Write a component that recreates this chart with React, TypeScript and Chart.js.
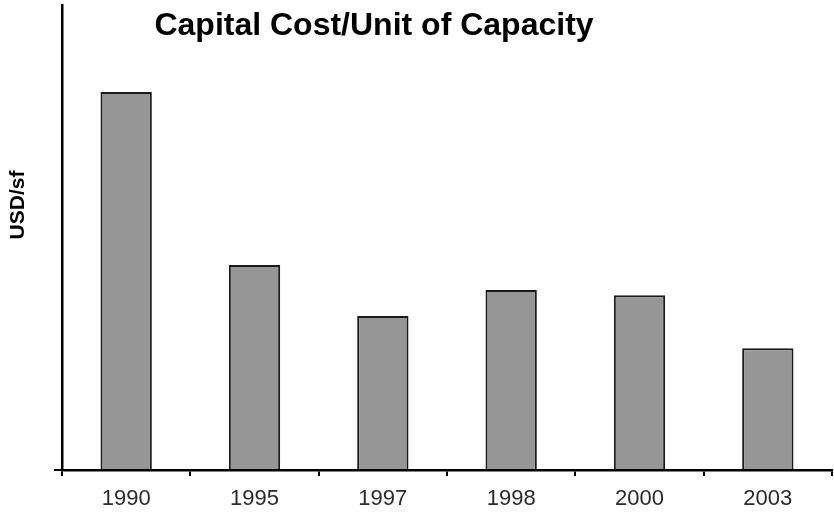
import React, { useEffect, useRef } from "react";
import { Chart, registerables } from "chart.js";

Chart.register(...registerables);

const categories = ["1990", "1995", "1997", "1998", "2000", "2003"];
const costValues = [81.3, 44.1, 33.1, 38.7, 37.6, 26.2];
const chartTitle = "Capital Cost/Unit of Capacity";
const yAxisTitle = "USD/sf";

const textPlugin = {
  id: "textPlugin",
  afterDraw(chart: any) {
    const ctx = chart.ctx;
    ctx.save();
    ctx.fillStyle = "#000";
    ctx.textAlign = "center";
    ctx.textBaseline = "middle";
    ctx.font = "bold 32px 'Liberation Sans', Arial, sans-serif";
    ctx.fillText(chartTitle, 374, 26);
    ctx.translate(18, 205);
    ctx.rotate(-Math.PI / 2);
    ctx.font = "bold 21px 'Liberation Sans', Arial, sans-serif";
    ctx.fillText(yAxisTitle, 0, 0);
    ctx.restore();
  },
};

export default function App() {
  const ref = useRef<HTMLCanvasElement>(null);
  useEffect(() => {
    const chart = new Chart(ref.current as HTMLCanvasElement, {
      type: "bar",
      data: {
        labels: categories,
        datasets: [
          {
            data: costValues,
            backgroundColor: "#969696",
            borderColor: "#1a1a1a",
            borderWidth: 2,
            barPercentage: 0.4,
            categoryPercentage: 1,
          },
        ],
      },
      options: {
        responsive: false,
        animation: false,
        layout: { padding: { top: 5, right: 2, left: 0, bottom: 0 } },
        plugins: { legend: { display: false }, tooltip: { enabled: false }, title: { display: false } },
        scales: {
          x: {
            grid: {
              display: true,
              drawOnChartArea: false,
              drawTicks: true,
              tickLength: 6,
              offset: true,
              color: "#000",
              lineWidth: 2,
            },
            border: { display: true, color: "#000", width: 2.5 },
            ticks: {
              color: "#2a2a2a",
              padding: 10,
              font: { family: "'Liberation Sans', Arial, sans-serif", size: 22 },
            },
            afterFit(scale: any) {
              scale.height = 46;
            },
          },
          y: {
            min: 0,
            max: 100,
            grid: {
              display: true,
              drawOnChartArea: false,
              drawTicks: true,
              tickLength: 8,
              color: "#000",
              lineWidth: 2,
            },
            border: { display: true, color: "#000", width: 2.5 },
            ticks: { display: false },
            afterBuildTicks(scale: any) {
              scale.ticks = [{ value: 0 }];
            },
            afterFit(scale: any) {
              scale.width = 62;
            },
          },
        },
      },
      plugins: [textPlugin],
    });
    return () => chart.destroy();
  }, []);
  return (
    <div style={{ position: "fixed", left: 0, top: 0, width: 834, height: 516, background: "#fff" }}>
      <canvas ref={ref} width={834} height={516} />
    </div>
  );
}
